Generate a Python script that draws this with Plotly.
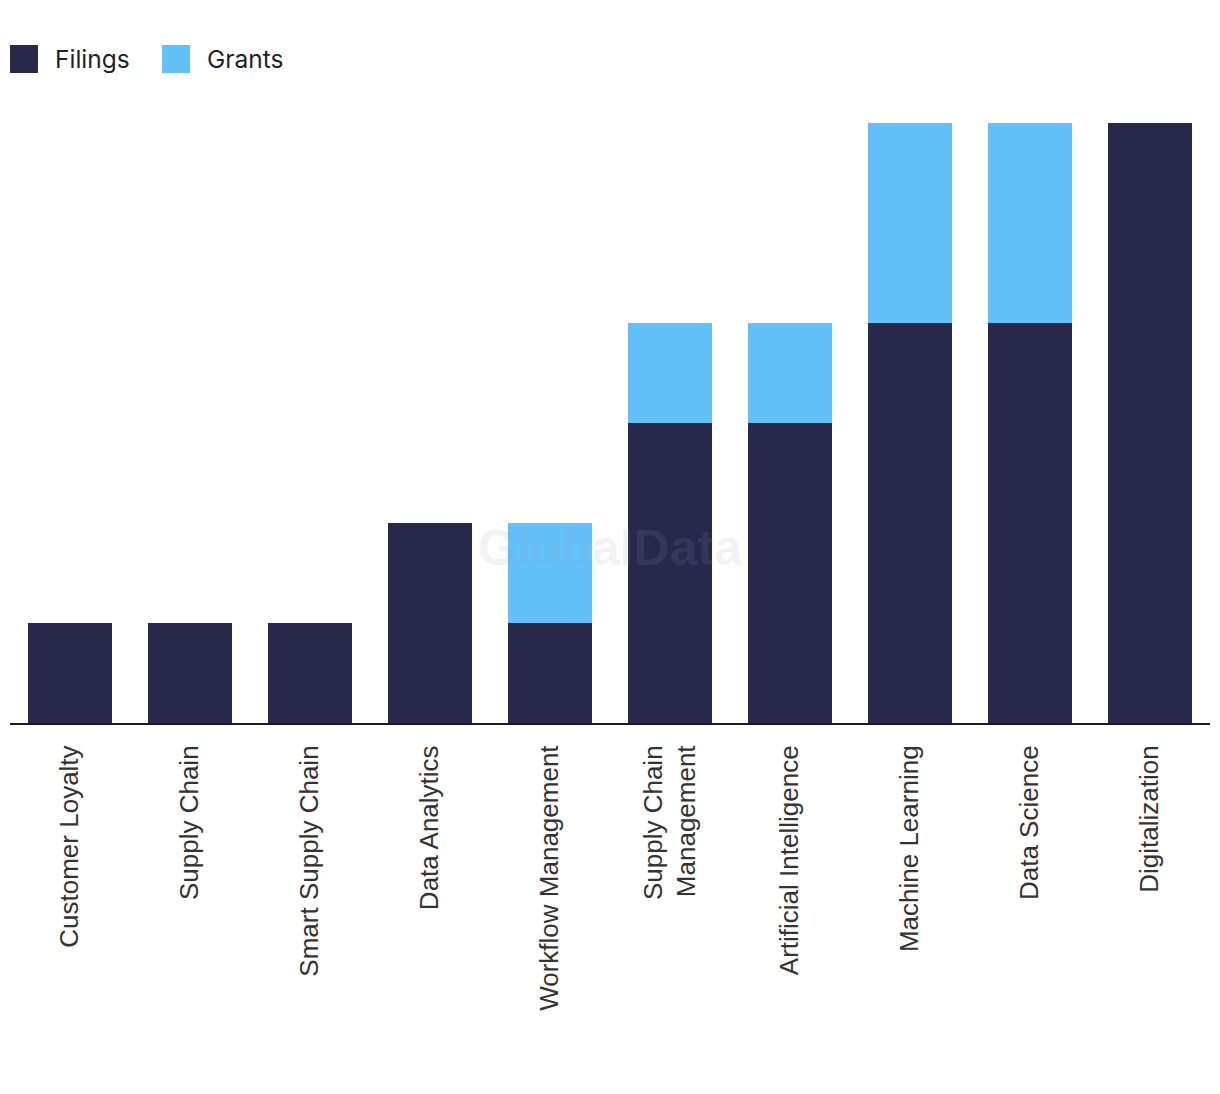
import plotly.graph_objects as go

categories = ["Customer Loyalty", "Supply Chain", "Smart Supply Chain", "Data Analytics",
              "Workflow Management", "Supply Chain<br>Management", "Artificial Intelligence",
              "Machine Learning", "Data Science", "Digitalization"]
filings = [1, 1, 1, 2, 1, 3, 3, 4, 4, 6]
grants = [0, 0, 0, 0, 1, 1, 1, 2, 2, 0]

navy = "#27284a"
blue = "#62c1f9"

fig = go.Figure()
fig.add_trace(go.Bar(x=categories, y=filings, name="Filings", marker=dict(color=navy, line=dict(width=0)), width=0.7))
fig.add_trace(go.Bar(x=categories, y=grants, name="Grants", marker=dict(color=blue, line=dict(width=0)), width=0.7))

fig.update_layout(
    barmode="stack",
    width=1220, height=1094,
    margin=dict(l=2, r=18, t=115, b=379),
    plot_bgcolor="white", paper_bgcolor="white",
    showlegend=False,
    xaxis=dict(tickangle=-90, tickfont=dict(family="Liberation Sans", size=26, color="#333333"),
               showline=True, linecolor="#1a1a2e", linewidth=2, ticks="outside", ticklen=10,
               tickcolor="rgba(0,0,0,0)", showgrid=False),
    yaxis=dict(range=[0, 6], visible=False, showgrid=False),
)

# manual legend
legend_items = [("Filings", navy, 10), ("Grants", blue, 162)]
for name, col, x0 in legend_items:
    fig.add_shape(type="rect", xref="paper", yref="paper",
                  x0=(x0 - 10) / 1200, x1=(x0 + 28 - 10) / 1200,
                  y0=(723 - 73) / 600, y1=(723 - 45) / 600,
                  fillcolor=col, line=dict(width=0))
    fig.add_annotation(text=name, xref="paper", yref="paper",
                       x=(x0 + 43 - 10) / 1200, y=(723 - 59) / 600,
                       xanchor="left", yanchor="middle", showarrow=False,
                       font=dict(family="Inter, Noto Sans", size=24.5, color="#1f1f33"))

fig.add_annotation(text="<b>GlobalData</b>", xref="paper", yref="paper", x=0.5, y=(723 - 548) / 600,
                   xanchor="center", yanchor="middle",
                   showarrow=False, font=dict(family="Liberation Sans", size=50, color="#a0a0b0"),
                   opacity=0.12)

fig.write_html("out.html")
